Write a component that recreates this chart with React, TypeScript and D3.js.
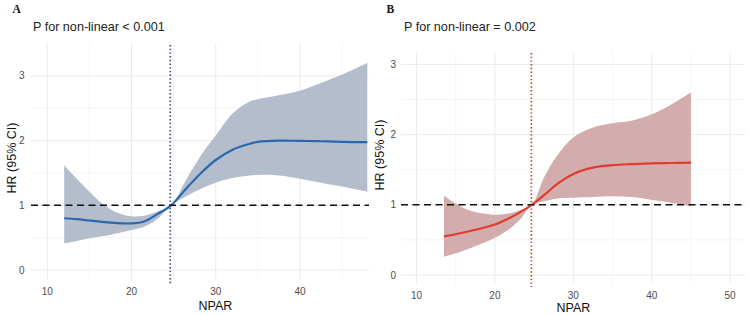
import React from "react";
import * as d3 from "d3";

// ---------- Data ----------
const aX = [12, 13.5, 15, 16.5, 18, 20, 21.5, 23, 24.7, 26.5, 28.5, 30, 32, 34, 35, 37.5, 40, 42.5, 45, 48];
const aHR = [0.8, 0.785, 0.765, 0.745, 0.728, 0.72, 0.75, 0.86, 1.0, 1.26, 1.53, 1.7, 1.86, 1.95, 1.98, 2.0, 1.995, 1.99, 1.98, 1.975];
const aUpper = [1.62, 1.41, 1.21, 1.03, 0.9, 0.83, 0.84, 0.9, 1.0, 1.4, 1.82, 2.08, 2.42, 2.6, 2.64, 2.7, 2.77, 2.89, 3.02, 3.2];
const aLower = [0.41, 0.45, 0.49, 0.52, 0.56, 0.62, 0.67, 0.78, 1.0, 1.14, 1.27, 1.35, 1.42, 1.46, 1.47, 1.46, 1.41, 1.35, 1.29, 1.21];

const bX = [13.5, 15, 17, 20, 22, 23.3, 24.7, 26.3, 28, 30, 32.5, 35, 37.5, 40, 42.5, 45];
const bHR = [0.55, 0.58, 0.63, 0.72, 0.82, 0.9, 1.0, 1.14, 1.3, 1.44, 1.53, 1.565, 1.58, 1.59, 1.595, 1.6];
const bUpper = [1.13, 1.02, 0.91, 0.86, 0.88, 0.93, 1.0, 1.4, 1.71, 1.96, 2.1, 2.16, 2.2, 2.29, 2.43, 2.6];
const bLower = [0.26, 0.31, 0.39, 0.53, 0.67, 0.8, 1.0, 1.05, 1.09, 1.1, 1.11, 1.12, 1.11, 1.07, 1.03, 0.98];

const aXTicks = [10, 20, 30, 40];
const aXMinor = [15, 25, 35, 45];
const bXTicks = [10, 20, 30, 40, 50];
const bXMinor = [15, 25, 35, 45];
const yTicks = [0, 1, 2, 3];
const yMinor = [0.5, 1.5, 2.5];

const aCutoff = 24.6;
const bCutoff = 24.65;
const refHR = 1;

const aTitle = "P for non-linear < 0.001";
const bTitle = "P for non-linear = 0.002";
const xTitle = "NPAR";
const yTitle = "HR (95% CI)";

const FONT = "'Liberation Sans', Arial, sans-serif";

type PanelProps = {
  letter: string;
  title: string;
  xs: number[];
  hr: number[];
  lo: number[];
  hi: number[];
  xDomain: [number, number];
  yDomain: [number, number];
  left: number;
  right: number;
  top: number;
  bottom: number;
  xTicks: number[];
  xMinor: number[];
  cutoff: number;
  bandColor: string;
  lineColor: string;
  vColor: string;
  letterX: number;
  titleX: number;
  yTickRight: number;
  yTitleX: number;
  yTitleY: number;
  xTickY: number;
  xTitleX: number;
  xTitleY: number;
  vTop: number;
  vBottom: number;
};

function Panel(p: PanelProps) {
  const x = d3.scaleLinear().domain(p.xDomain).range([p.left, p.right]);
  const y = d3.scaleLinear().domain(p.yDomain).range([p.bottom, p.top]);
  const idx = d3.range(p.xs.length);
  const curve = d3.curveCatmullRom.alpha(0.5);
  const area = d3
    .area<number>()
    .x((i) => x(p.xs[i]))
    .y0((i) => y(p.lo[i]))
    .y1((i) => y(p.hi[i]))
    .curve(curve);
  const line = d3
    .line<number>()
    .x((i) => x(p.xs[i]))
    .y((i) => y(p.hr[i]))
    .curve(curve);
  const grid = "#ebebeb";
  return (
    <g>
      <text x={p.letterX} y={12.5} fontFamily="'Liberation Serif', 'Times New Roman', serif" fontWeight="bold" fontSize={11.5} fill="#111">
        {p.letter}
      </text>
      <text x={p.titleX} y={31} fontFamily={FONT} fontSize={12.6} fill="#222">
        {p.title}
      </text>
      {yMinor.map((v) => (
        <line key={"ym" + v} x1={p.left} x2={p.right} y1={y(v)} y2={y(v)} stroke="#f3f3f3" strokeWidth={0.8} />
      ))}
      {p.xMinor.map((v) => (
        <line key={"xm" + v} x1={x(v)} x2={x(v)} y1={p.top} y2={p.bottom} stroke="#f3f3f3" strokeWidth={0.8} />
      ))}
      {yTicks.map((v) => (
        <line key={"y" + v} x1={p.left} x2={p.right} y1={y(v)} y2={y(v)} stroke={grid} strokeWidth={1} />
      ))}
      {p.xTicks.map((v) => (
        <line key={"x" + v} x1={x(v)} x2={x(v)} y1={p.top} y2={p.bottom} stroke={grid} strokeWidth={1} />
      ))}
      <path d={area(idx) || ""} fill={p.bandColor} />
      <path d={line(idx) || ""} fill="none" stroke={p.lineColor} strokeWidth={2.2} />
      <line
        x1={p.left}
        x2={p.right}
        y1={y(refHR)}
        y2={y(refHR)}
        stroke="#111"
        strokeWidth={1.6}
        strokeDasharray="7,4.5"
      />
      <line
        x1={x(p.cutoff)}
        x2={x(p.cutoff)}
        y1={p.vTop}
        y2={p.vBottom}
        stroke={p.vColor}
        strokeWidth={1.7}
        strokeDasharray="1.4,2.3"
      />
      {yTicks.map((v) => (
        <text
          key={"yl" + v}
          x={p.yTickRight}
          y={y(v)}
          dy="0.35em"
          textAnchor="end"
          fontFamily={FONT}
          fontSize={10}
          fill="#4d4d4d"
        >
          {v}
        </text>
      ))}
      {p.xTicks.map((v) => (
        <text
          key={"xl" + v}
          x={x(v)}
          y={p.xTickY}
          dy="0.35em"
          textAnchor="middle"
          fontFamily={FONT}
          fontSize={10}
          fill="#4d4d4d"
        >
          {v}
        </text>
      ))}
      <text x={p.xTitleX} y={p.xTitleY} textAnchor="middle" fontFamily={FONT} fontSize={12.5} fill="#111">
        {xTitle}
      </text>
      <text
        transform={`translate(${p.yTitleX},${p.yTitleY}) rotate(-90)`}
        textAnchor="middle"
        fontFamily={FONT}
        fontSize={12.5}
        fill="#111"
      >
        {yTitle}
      </text>
    </g>
  );
}

export default function App() {
  return (
    <svg
      width={749}
      height={315}
      viewBox="0 0 749 315"
      style={{ position: "absolute", left: 0, top: 0, background: "#fff" }}
    >
      <rect x={0} y={0} width={749} height={315} fill="#fff" />
      <Panel
        letter="A"
        title={aTitle}
        xs={aX}
        hr={aHR}
        lo={aLower}
        hi={aUpper}
        xDomain={[8.06, 48.2]}
        yDomain={[-0.139, 3.508]}
        left={31}
        right={369}
        top={43}
        bottom={279}
        xTicks={aXTicks}
        xMinor={aXMinor}
        cutoff={aCutoff}
        bandColor="#b3bdcc"
        lineColor="#2b67ae"
        vColor="#3a4880"
        letterX={12.5}
        titleX={33}
        yTickRight={24.5}
        yTitleX={15.5}
        yTitleY={158}
        xTickY={291.5}
        xTitleX={215.5}
        xTitleY={310}
        vTop={45}
        vBottom={285}
      />
      <Panel
        letter="B"
        title={bTitle}
        xs={bX}
        hr={bHR}
        lo={bLower}
        hi={bUpper}
        xDomain={[8.02, 51.9]}
        yDomain={[-0.128, 3.162]}
        left={401}
        right={745}
        top={53}
        bottom={284}
        xTicks={bXTicks}
        xMinor={bXMinor}
        cutoff={bCutoff}
        bandColor="#d3adad"
        lineColor="#e03b2b"
        vColor="#c0392b"
        letterX={386.5}
        titleX={404}
        yTickRight={396}
        yTitleX={384}
        yTitleY={155}
        xTickY={295}
        xTitleX={573.5}
        xTitleY={311.5}
        vTop={53}
        vBottom={287}
      />
    </svg>
  );
}
